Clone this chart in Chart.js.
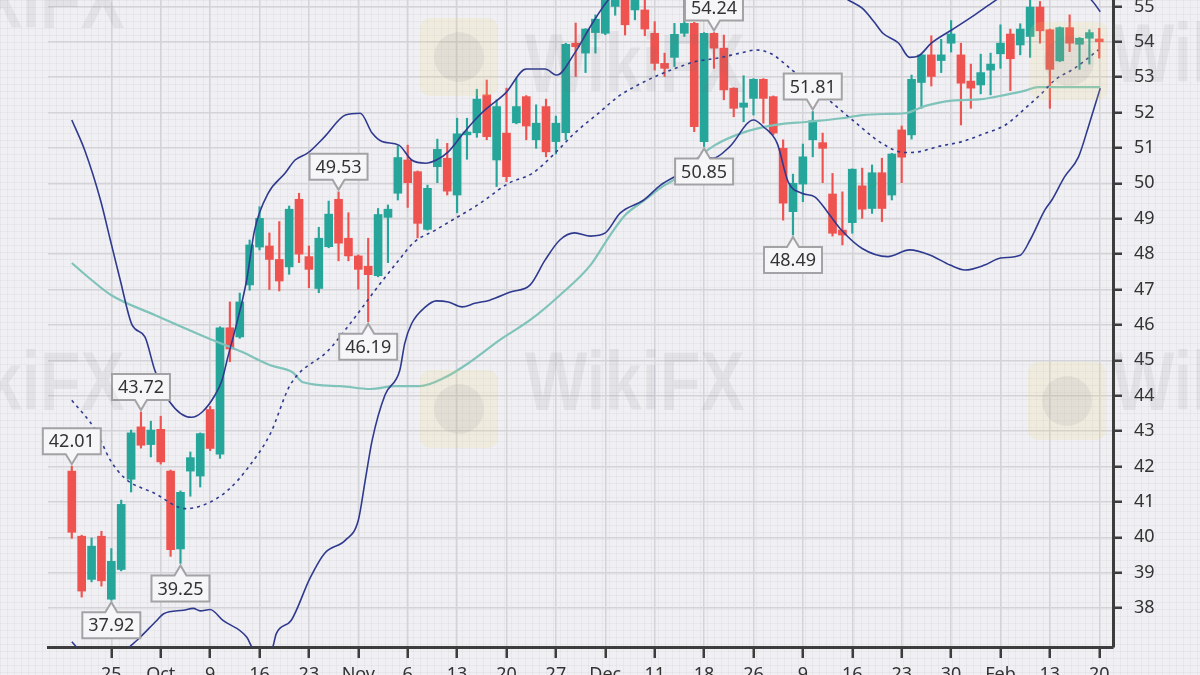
<!DOCTYPE html>
<html>
<head>
<meta charset="utf-8">
<script src="https://cdn.jsdelivr.net/npm/chart.js@4.4.1/dist/chart.umd.min.js"></script>
<style>
    html, body { margin: 0; padding: 0; }
    #wrap {
        position: relative;
        width: 1200px;
        height: 675px;
        overflow: hidden;
        background-color: #f0f0f4;
        background-image:
            linear-gradient(rgba(0,0,0,0.035) 1px, transparent 1px),
            linear-gradient(90deg, rgba(0,0,0,0.035) 1px, transparent 1px);
        background-size: 7px 7px;
    }
    #chart { position: absolute; left: 0; top: -29px; }
    .wm {
        position: absolute;
        font-family: "Liberation Sans", sans-serif;
        font-weight: bold;
        font-size: 66px;
        line-height: 1;
        color: rgba(110, 110, 120, 0.10);
        transform: scaleY(1.25);
        transform-origin: top left;
        pointer-events: none;
        white-space: nowrap;
    }
    .logo {
        position: absolute;
        width: 78px;
        height: 78px;
        border-radius: 10px;
        background: rgba(240, 205, 110, 0.15);
        pointer-events: none;
    }
    .logo::after {
        content: '';
        position: absolute;
        left: 14px; top: 14px;
        width: 50px; height: 50px;
        border-radius: 50%;
        background: rgba(120, 120, 130, 0.10);
    }
</style>
</head>
<body>
<div id="wrap">
    <canvas id="chart" width="1200" height="726"></canvas>
    <div class="wm" style="left:-95px; top:-42px;">WikiFX</div>
    <div class="logo" style="left:420px; top:18px;"></div>
    <div class="wm" style="left:525px; top:22px;">WikiFX</div>
    <div class="wm" style="left:-95px; top:340px;">WikiFX</div>
    <div class="logo" style="left:420px; top:370px;"></div>
    <div class="wm" style="left:525px; top:340px;">WikiFX</div>
    <div class="logo" style="left:1028px; top:362px;"></div>
    <div class="wm" style="left:1112px; top:340px;">WikiFX</div>
    <div class="logo" style="left:1030px; top:22px;"></div>
    <div class="wm" style="left:1112px; top:12px;">WikiFX</div>
</div>
<script>
// candles, one per trading day (index 0..104)
const opens = [41.87, 40.03, 38.81, 40.03, 38.25, 39.09, 41.64, 43.12, 42.62, 43.05,
    41.87, 39.67, 41.87, 41.73, 43.61, 42.35, 45.92, 45.66, 47.13, 48.20,
    48.23, 47.85, 47.64, 49.55, 47.93, 47.03, 48.21, 49.55, 48.45, 47.95,
    47.66, 47.39, 49.04, 49.72, 50.66, 50.33, 48.70, 50.47, 50.71, 49.67,
    51.37, 51.43, 52.50, 50.66, 51.42, 51.71, 52.45, 51.23, 52.17, 51.18,
    51.43, 53.96, 53.68, 54.26, 54.24, 55.00, 55.40, 54.90, 54.90, 54.24,
    53.39, 53.56, 54.24, 54.52, 51.18, 54.24, 53.82, 52.69, 52.15, 52.40,
    52.94, 52.45, 50.99, 49.20, 49.98, 51.23, 51.15, 49.70, 48.68, 48.89,
    49.93, 49.29, 50.30, 49.67, 51.51, 51.37, 52.85, 53.63, 53.47, 53.96,
    53.63, 52.89, 52.78, 53.20, 53.66, 54.22, 53.91, 54.15, 54.98, 54.34,
    53.46, 54.40, 53.93, 54.10, 54.08];
const highs = [42.01, 40.06, 39.98, 40.17, 39.68, 41.05, 43.03, 43.54, 43.28, 43.42,
    41.90, 41.31, 42.41, 42.95, 43.70, 45.95, 46.65, 46.90, 48.40, 49.34,
    48.60, 48.92, 49.36, 49.72, 48.23, 48.76, 49.50, 49.76, 49.17, 47.98,
    48.45, 49.29, 49.39, 51.06, 51.08, 50.35, 49.95, 51.25, 51.13, 51.84,
    51.84, 52.66, 52.92, 52.36, 52.69, 52.98, 52.48, 52.22, 52.38, 51.90,
    53.96, 54.53, 54.37, 54.76, 55.60, 55.70, 55.60, 55.50, 55.30, 54.57,
    53.68, 54.52, 55.20, 54.55, 54.26, 54.26, 54.19, 52.70, 53.04, 52.96,
    52.96, 52.47, 51.23, 50.26, 51.11, 52.03, 51.42, 50.28, 49.76, 50.41,
    50.43, 50.52, 50.71, 50.85, 51.62, 53.06, 53.64, 54.17, 54.07, 54.60,
    53.96, 53.37, 53.65, 53.68, 54.48, 54.36, 54.51, 55.20, 55.14, 54.36,
    54.42, 54.76, 54.12, 54.34, 54.38];
const lows = [39.97, 38.31, 38.74, 38.62, 38.22, 39.05, 41.28, 42.52, 42.27, 42.07,
    39.46, 39.26, 41.16, 41.42, 42.45, 42.23, 44.96, 45.62, 46.98, 48.12,
    47.00, 46.96, 47.43, 47.76, 47.05, 46.91, 48.18, 47.81, 47.81, 47.01,
    46.09, 47.36, 47.76, 49.53, 49.32, 48.46, 48.68, 50.02, 49.67, 49.17,
    50.68, 51.30, 51.23, 49.91, 50.05, 51.68, 51.23, 50.99, 50.75, 50.83,
    51.23, 53.02, 53.13, 53.68, 54.20, 54.75, 54.19, 54.62, 54.17, 53.20,
    53.02, 53.30, 54.15, 51.46, 51.04, 53.25, 52.36, 51.88, 51.74, 51.93,
    51.70, 51.37, 48.96, 48.54, 49.48, 50.75, 50.02, 48.51, 48.26, 48.59,
    49.01, 49.15, 48.92, 49.53, 50.02, 51.25, 52.12, 52.75, 53.13, 53.71,
    51.65, 52.12, 52.53, 52.50, 53.25, 52.62, 53.63, 53.56, 53.96, 52.12,
    53.44, 53.72, 53.22, 53.37, 53.54];
const closes = [40.14, 38.48, 39.75, 38.77, 39.32, 40.93, 42.95, 42.60, 43.03, 42.13,
    39.65, 41.27, 42.25, 42.93, 42.51, 45.92, 45.32, 46.65, 48.26, 49.01,
    47.85, 47.24, 49.27, 48.00, 47.57, 48.45, 49.13, 48.31, 47.95, 47.57,
    47.42, 49.12, 49.27, 50.73, 50.02, 48.87, 49.86, 50.96, 49.78, 51.40,
    51.45, 52.38, 51.32, 52.17, 50.19, 52.17, 51.62, 51.70, 50.89, 51.70,
    53.93, 53.86, 54.36, 54.64, 55.40, 55.50, 54.48, 55.30, 54.36, 53.39,
    53.25, 54.21, 54.52, 51.60, 54.24, 53.82, 52.64, 52.12, 52.27, 52.94,
    52.40, 51.42, 49.44, 50.00, 50.75, 51.77, 50.99, 48.59, 48.54, 50.40,
    49.27, 50.30, 49.29, 50.83, 50.74, 52.94, 53.63, 53.02, 53.63, 54.22,
    52.83, 52.69, 53.13, 53.37, 53.96, 53.52, 54.36, 54.98, 54.31, 53.22,
    54.40, 53.96, 54.10, 54.26, 54.00];

// indicator lines, read as [candle index, price]
const upperBand = [[0, 51.79], [1.3, 50.94], [2.9, 49.53], [3.9, 48.40], [4.9, 47.27], [6.1, 46.00],
    [7.4, 45.66], [8.4, 44.72], [9.9, 43.83], [12.1, 43.39], [13.2, 43.54], [14.5, 44.02],
    [15.2, 44.44], [15.8, 45.10], [16.7, 46.05], [17.7, 47.27], [18.5, 48.68], [19.9, 49.73],
    [21.6, 50.29], [22.6, 50.66], [23.9, 50.86], [25.6, 51.32], [27.7, 51.93], [29.2, 51.98],
    [30.4, 51.42], [31.4, 51.18], [33.1, 51.08], [34.4, 50.66], [35.8, 50.57], [36.9, 50.66],
    [38.1, 50.89], [39.5, 51.37], [40.8, 51.79], [41.8, 52.07], [43.9, 52.55], [46.0, 53.23],
    [47.9, 53.23], [49.1, 53.06], [50.9, 53.68], [52.6, 54.48], [54.3, 55.18], [57, 55.8],
    [62, 56.3], [68, 56.4], [74, 56.0], [78.6, 55.18], [80.0, 54.95], [81.3, 54.53],
    [82.1, 54.24], [83.7, 53.96], [84.8, 53.56], [85.7, 53.60], [87.0, 53.96], [89.1, 54.34],
    [91.4, 54.76], [93.1, 55.09], [96, 55.6], [100, 55.8], [103.2, 55.18], [104.1, 54.85]];
const lowerBand = [[0, 37.05], [1.5, 36.6], [3.5, 36.4], [5.0, 36.6], [5.7, 36.86], [6.6, 37.09],
    [8.6, 37.65], [9.3, 37.84], [11.3, 37.94], [12.3, 37.99], [13.0, 37.92], [14.0, 37.96],
    [15.3, 37.65], [17.7, 37.18], [18.3, 36.86], [19.3, 36.6], [20.3, 36.86], [20.7, 37.28],
    [22.2, 37.65], [24.1, 38.84], [25.6, 39.55], [27.7, 39.92], [29.0, 40.48], [29.7, 41.61],
    [30.4, 42.74], [31.7, 44.02], [33.2, 44.72], [33.7, 45.48], [34.4, 46.04], [35.8, 46.51],
    [36.9, 46.68], [38.1, 46.65], [39.5, 46.51], [40.8, 46.61], [42.3, 46.70], [44.4, 46.93],
    [46.4, 47.13], [47.9, 47.83], [49.4, 48.40], [50.9, 48.60], [52.5, 48.51], [54.0, 48.60],
    [55.5, 49.16], [57.9, 49.53], [59.6, 49.95], [61.6, 50.28], [64.1, 50.75], [64.9, 50.71],
    [66.6, 51.04], [69.0, 51.79], [70.0, 51.60], [71.4, 51.13], [72.5, 50.05], [73.9, 49.72],
    [75.2, 49.62], [76.6, 49.15], [77.9, 48.68], [80.0, 48.16], [82.6, 47.93], [84.8, 48.12],
    [86.9, 47.97], [88.9, 47.69], [90.4, 47.55], [92.4, 47.69], [94.0, 47.89], [96.0, 47.97],
    [97.0, 48.40], [98.5, 49.25], [99.2, 49.53], [100.5, 50.19], [101.9, 50.75], [102.9, 51.60],
    [104.1, 52.69]];
const middleBand = [[0, 43.87], [2.4, 43.03], [3.9, 42.18], [5.4, 41.66], [8.4, 41.24], [11.5, 40.81],
    [13.5, 40.93], [15.8, 41.33], [17.9, 41.99], [20.1, 42.93], [22.1, 44.30], [26.0, 45.29],
    [28.7, 46.23], [30.7, 46.98], [33.1, 47.83], [34.7, 48.35], [36.8, 48.68], [38.8, 49.01],
    [40.8, 49.34], [41.8, 49.53], [44.2, 50.00], [46.6, 50.28], [48.9, 50.85], [50.9, 51.42],
    [53.3, 51.98], [55.3, 52.45], [57.3, 52.78], [59.4, 53.06], [61.6, 53.30], [63.1, 53.44],
    [65.4, 53.54], [67.8, 53.69], [69.3, 53.77], [70.8, 53.66], [73.0, 53.18], [76.6, 52.36],
    [79.4, 51.70], [82.0, 51.13], [84.3, 50.87], [85.7, 50.89], [87.7, 51.04], [90.1, 51.18],
    [92.4, 51.41], [94.5, 51.65], [96.5, 52.12], [98.2, 52.55], [99.5, 52.92], [101.5, 53.25],
    [103.9, 53.77]];
const maLine = [[0, 47.75], [2.0, 47.27], [4.0, 46.84], [8.4, 46.28], [13.5, 45.66], [17.2, 45.24],
    [20.1, 44.86], [22.3, 44.67], [23.4, 44.38], [27.2, 44.27], [30.2, 44.19], [32.7, 44.27],
    [35.2, 44.27], [37.8, 44.52], [40.3, 44.95], [43.3, 45.57], [46.4, 46.14], [49.4, 46.84],
    [52.5, 47.69], [54.5, 48.54], [56.0, 49.10], [58.0, 49.53], [60.0, 49.95], [60.9, 50.09],
    [63.1, 50.66], [65.1, 51.08], [67.8, 51.42], [71.2, 51.65], [74.5, 51.74], [77.9, 51.84],
    [80.0, 51.93], [82.3, 51.96], [84.3, 51.98], [86.4, 52.19], [89.1, 52.34], [92.1, 52.38],
    [94.5, 52.50], [96.5, 52.62], [97.8, 52.72], [104.1, 52.72]];

// axes
const xTickPos = [4, 9, 14, 19, 24, 29, 34, 39, 44, 49, 54, 59, 64, 69, 74, 79, 84, 89, 94, 99, 104];
const xTickLabels = ['25', 'Oct', '9', '16', '23', 'Nov', '6', '13', '20', '27', 'Dec',
    '11', '18', '26', '9', '16', '23', '30', 'Feb', '13', '20'];
const yTicks = [38, 39, 40, 41, 42, 43, 44, 45, 46, 47, 48, 49, 50, 51, 52, 53, 54, 55];

// high / low callouts
const callouts = [
    { i: 0, text: '42.01', side: 'high' },
    { i: 4, text: '37.92', side: 'low' },
    { i: 7, text: '43.72', side: 'high' },
    { i: 11, text: '39.25', side: 'low' },
    { i: 27, text: '49.53', side: 'high' },
    { i: 30, text: '46.19', side: 'low' },
    { i: 64, text: '50.85', side: 'low' },
    { i: 65, text: '54.24', side: 'high' },
    { i: 73, text: '48.49', side: 'low' },
    { i: 75, text: '51.81', side: 'high' }
];

const UP = '#26a69a';
const DOWN = '#ef5350';
const candleColors = opens.map((o, i) => closes[i] >= o ? UP : DOWN);
const toPoints = arr => arr.map(p => ({ x: p[0], y: p[1] }));

const calloutPlugin = {
    id: 'callouts',
    afterDatasetsDraw(chart) {
        const ctx = chart.ctx;
        const x = chart.scales.x;
        const y = chart.scales.y;
        ctx.save();
        ctx.font = '18px "Noto Sans"';
        ctx.textAlign = 'center';
        ctx.textBaseline = 'middle';
        callouts.forEach(c => {
            const px = x.getPixelForValue(c.i);
            const py = y.getPixelForValue(c.side === 'high' ? highs[c.i] : lows[c.i]);
            const w = ctx.measureText(c.text).width + 12;
            const h = 26, notch = 10, half = 6, gap = 2;
            const l = px - w / 2, r = px + w / 2;
            let top, bottom;
            ctx.beginPath();
            if (c.side === 'high') {
                const tip = py - gap;
                bottom = tip - notch;
                top = bottom - h;
                ctx.moveTo(l, top);
                ctx.lineTo(r, top);
                ctx.lineTo(r, bottom);
                ctx.lineTo(px + half, bottom);
                ctx.lineTo(px, tip);
                ctx.lineTo(px - half, bottom);
                ctx.lineTo(l, bottom);
            } else {
                const tip = py + gap;
                top = tip + notch;
                bottom = top + h;
                ctx.moveTo(l, top);
                ctx.lineTo(px - half, top);
                ctx.lineTo(px, tip);
                ctx.lineTo(px + half, top);
                ctx.lineTo(r, top);
                ctx.lineTo(r, bottom);
                ctx.lineTo(l, bottom);
            }
            ctx.closePath();
            ctx.fillStyle = '#f6f6f8';
            ctx.fill();
            ctx.lineWidth = 2;
            ctx.strokeStyle = '#a3a3a6';
            ctx.stroke();
            ctx.fillStyle = '#333333';
            ctx.fillText(c.text, px, (top + bottom) / 2 + 1);
        });
        ctx.restore();
    }
};

new Chart(document.getElementById('chart'), {
    type: 'bar',
    data: {
        datasets: [
            {
                type: 'line', label: 'Upper', data: toPoints(upperBand), order: 0,
                borderColor: '#2f3a8f', borderWidth: 1.6, pointRadius: 0, cubicInterpolationMode: 'monotone'
            },
            {
                type: 'line', label: 'Lower', data: toPoints(lowerBand), order: 0,
                borderColor: '#2f3a8f', borderWidth: 1.6, pointRadius: 0, cubicInterpolationMode: 'monotone'
            },
            {
                type: 'line', label: 'Middle', data: toPoints(middleBand), order: 0,
                borderColor: '#2f3a8f', borderWidth: 1.6, borderDash: [3, 4], pointRadius: 0, cubicInterpolationMode: 'monotone'
            },
            {
                type: 'line', label: 'MA', data: toPoints(maLine), order: 0,
                borderColor: '#7fc3ba', borderWidth: 2.2, pointRadius: 0, cubicInterpolationMode: 'monotone'
            },
            {
                label: 'Body', order: 1, grouped: false,
                data: opens.map((o, i) => ({ x: i, y: [o, closes[i]] })),
                backgroundColor: candleColors, barThickness: 8, minBarLength: 2
            },
            {
                label: 'Wick', order: 2, grouped: false,
                data: lows.map((lo, i) => ({ x: i, y: [lo, highs[i]] })),
                backgroundColor: candleColors, barThickness: 1.5
            }
        ]
    },
    options: {
        responsive: false,
        animation: false,
        devicePixelRatio: 1,
        layout: { padding: { left: 48, right: 0, top: 0, bottom: 0 } },
        plugins: { legend: { display: false }, tooltip: { enabled: false } },
        scales: {
            x: {
                type: 'linear',
                min: -2.41,
                max: 105.39,
                offset: false,
                afterBuildTicks: scale => { scale.ticks = xTickPos.map(v => ({ value: v })); },
                afterFit: scale => { scale.height = 50; scale.paddingLeft = 0; scale.paddingRight = 0; },
                ticks: {
                    autoSkip: false,
                    maxRotation: 0,
                    padding: 6,
                    color: '#333333',
                    font: { family: 'Noto Sans', size: 18 },
                    callback: (value, index) => xTickLabels[index]
                },
                grid: {
                    offset: false,
                    color: '#d3d3d8',
                    lineWidth: 1.5,
                    tickColor: '#3d3d3d',
                    tickWidth: 2.5,
                    tickLength: 11
                },
                border: { display: true, color: '#3d3d3d', width: 3 }
            },
            y: {
                position: 'right',
                min: 36.9,
                max: 56,
                afterBuildTicks: scale => { scale.ticks = yTicks.map(v => ({ value: v })); },
                afterFit: scale => { scale.width = 87; scale.paddingTop = 0; scale.paddingBottom = 0; },
                ticks: {
                    padding: 12,
                    color: '#333333',
                    font: { family: 'Noto Sans', size: 18 }
                },
                grid: {
                    color: '#d3d3d8',
                    lineWidth: 1.5,
                    tickColor: '#3d3d3d',
                    tickWidth: 2.5,
                    tickLength: 9
                },
                border: { display: true, color: '#3d3d3d', width: 3 }
            }
        }
    },
    plugins: [calloutPlugin]
});
</script>
</body>
</html>
